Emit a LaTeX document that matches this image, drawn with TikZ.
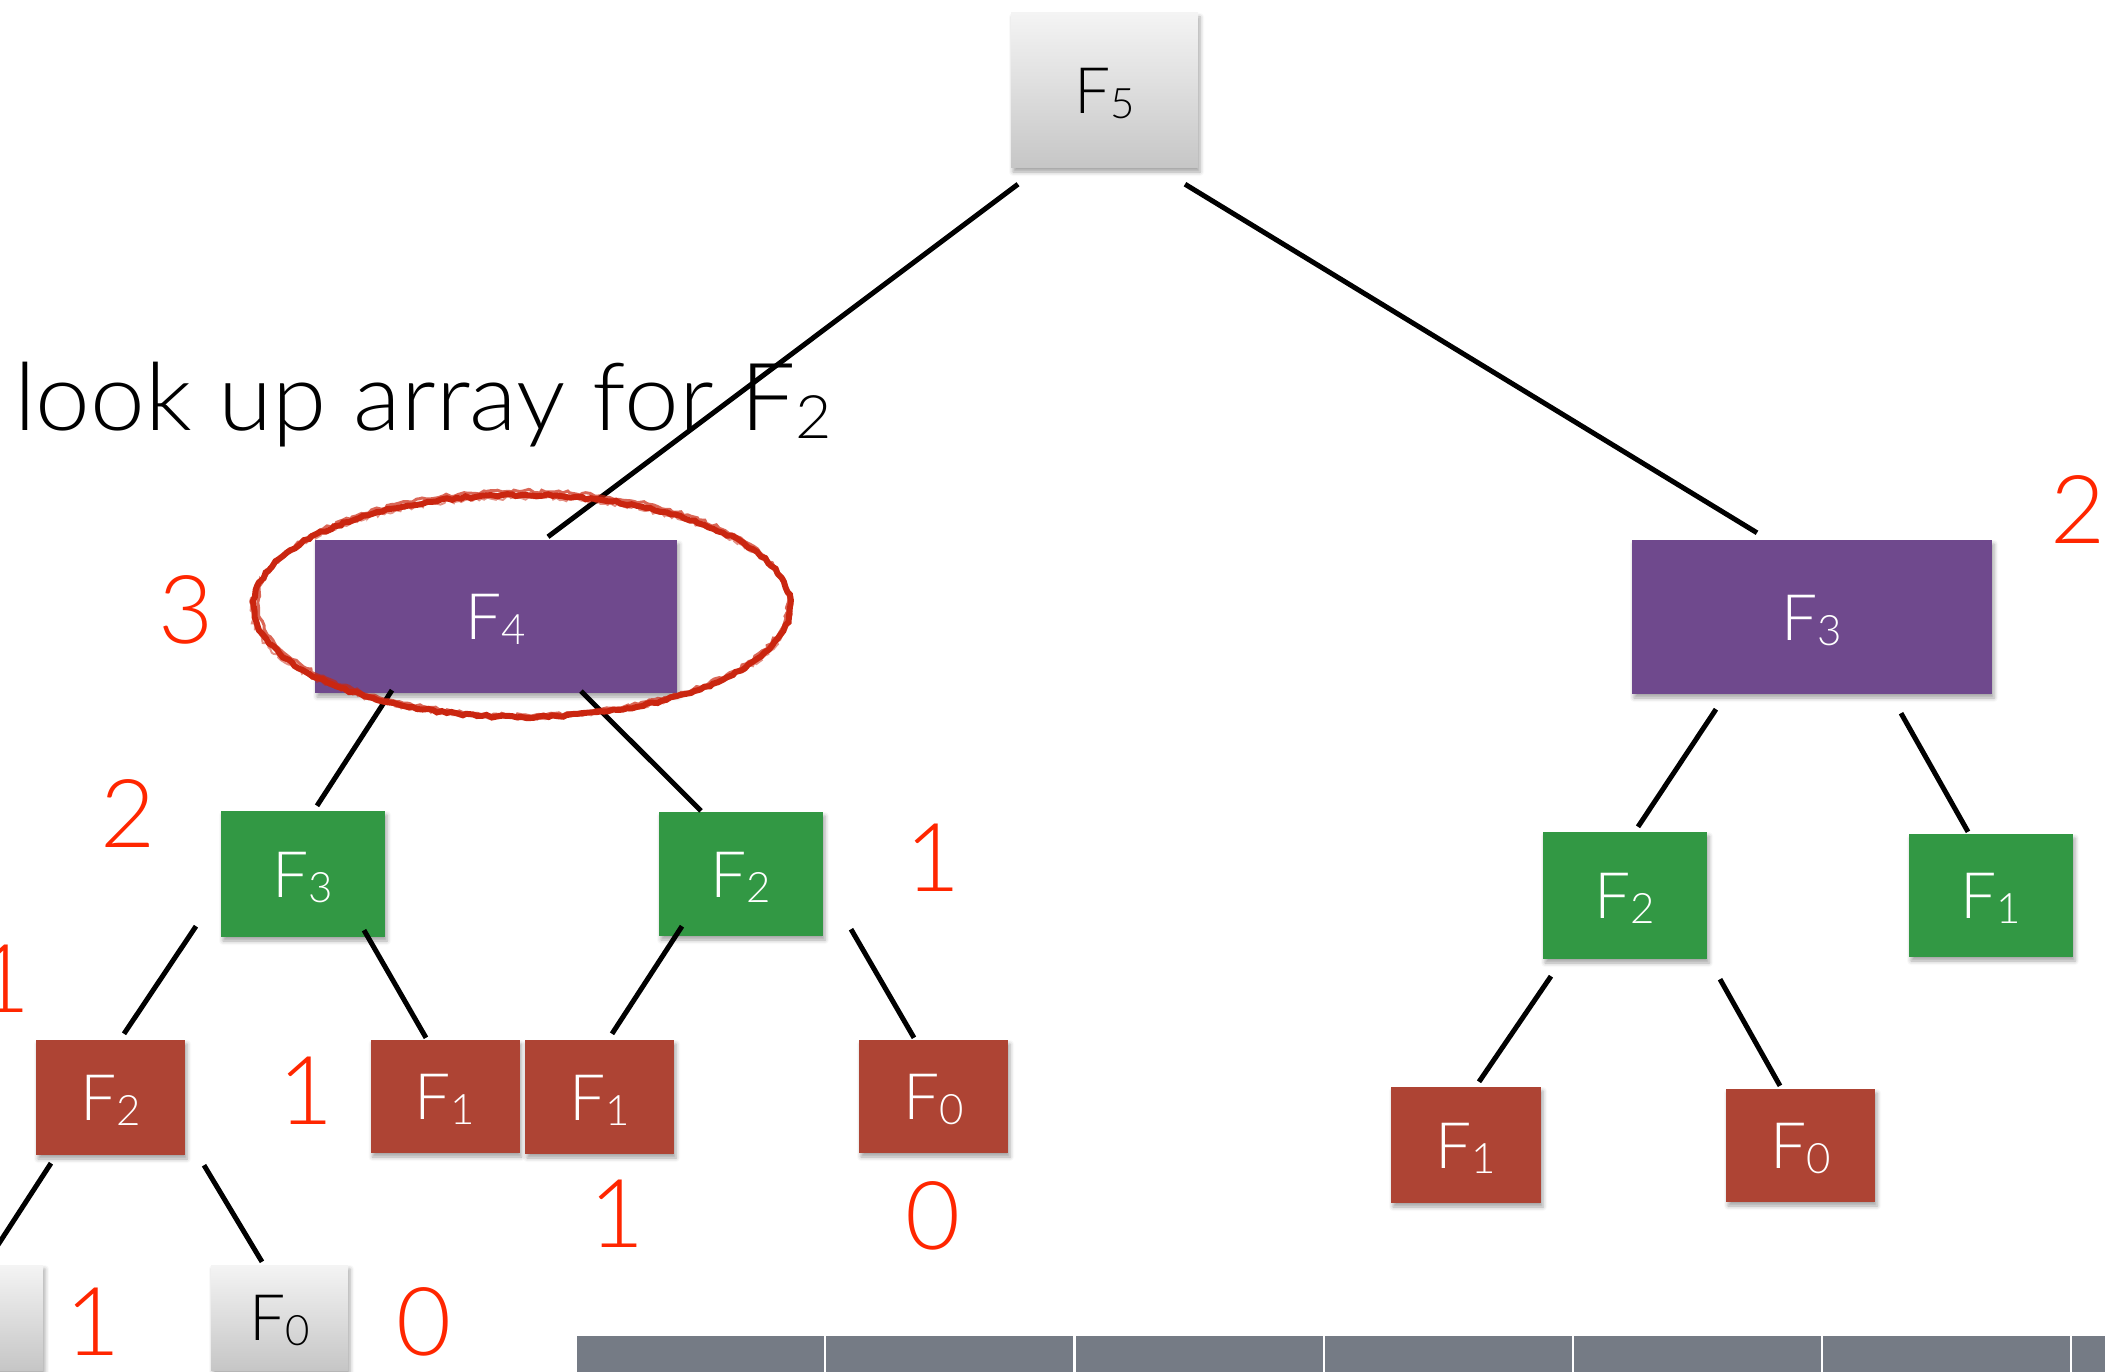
\documentclass[tikz,border=0pt]{standalone}
\usepackage{fontspec}
\IfFontExistsTF{Lato Light}
  {\setmainfont{Lato Light}\newfontfamily\capfont{Lato Light}[FakeStretch=1.045]}
  {\setmainfont{Liberation Sans}\newfontfamily\capfont{Liberation Sans}}
\usetikzlibrary{shadows.blur,decorations.pathmorphing}

\definecolor{boxpurple}{RGB}{111,73,141}
\definecolor{boxgreen}{RGB}{50,152,68}
\definecolor{boxred}{RGB}{174,68,52}
\definecolor{countred}{RGB}{255,38,0}
\definecolor{ringred}{RGB}{202,38,16}
\definecolor{arraygray}{RGB}{117,123,133}
\definecolor{cardtop}{RGB}{244,244,244}
\definecolor{cardbottom}{RGB}{198,198,198}

% F with a lowered index
\newcommand\fib[1]{F\raisebox{-5pt}{\fontsize{42}{42}\selectfont #1}}

\begin{document}
\begin{tikzpicture}[x=1pt,y=-1pt,
  card/.style={rectangle, inner sep=0pt, text height=46pt, text depth=0pt,
    font=\fontsize{64}{64}\selectfont,
    blur shadow={shadow xshift=2pt, shadow yshift=-4pt, shadow blur radius=4pt, shadow opacity=35}},
  purplecard/.style={card, fill=boxpurple, text=white},
  greencard/.style={card, fill=boxgreen, text=white},
  redcard/.style={card, fill=boxred, text=white},
  graycard/.style={card, top color=cardtop, bottom color=cardbottom, text=black},
  count/.style={inner sep=0pt, text height=68pt, text depth=0pt, text=countred,
    font=\fontsize{95}{95}\selectfont},
  edge/.style={line width=5pt, black},
  ring/.style={ringred, line width=6pt, decorate,
    decoration={random steps, segment length=5pt, amplitude=1.2pt}},
  cell/.style={rectangle, fill=arraygray, inner sep=0pt, minimum width=247, minimum height=60, anchor=north west}
]
\useasboundingbox (0,0) rectangle (2105,1372);
\clip (0,0) rectangle (2105,1372);

% array strip along the bottom
\foreach \i in {0,...,6}
  \node[cell] (cell\i) at ({577+\i*249.2},1336) {};

% tree nodes
\node[graycard, minimum width=187, minimum height=155] (f5) at (1104.5,90.5) {\fib{5}};

\node[purplecard, minimum width=362, minimum height=153] (f4) at (496,616.5) {\fib{4}};
\node[purplecard, minimum width=360, minimum height=154] (f3r) at (1812,617) {\fib{3}};

\node[greencard, minimum width=164, minimum height=126] (f3g) at (303,874) {\fib{3}};
\node[greencard, minimum width=164, minimum height=124] (f2g) at (741,874) {\fib{2}};
\node[greencard, minimum width=164, minimum height=127] (f2gr) at (1625,895.5) {\fib{2}};
\node[greencard, minimum width=164, minimum height=123] (f1gr) at (1991,895.5) {\fib{1}};

\node[redcard, minimum width=149, minimum height=115] (f2r) at (110.5,1097.5) {\fib{2}};
\node[redcard, minimum width=149, minimum height=113] (f1ra) at (445,1096.5) {\fib{1}};
\node[redcard, minimum width=149, minimum height=114] (f1rb) at (599.5,1097) {\fib{1}};
\node[redcard, minimum width=149, minimum height=113] (f0r) at (933.5,1096.5) {\fib{0}};
\node[redcard, minimum width=150, minimum height=116] (f1rr) at (1466,1145) {\fib{1}};
\node[redcard, minimum width=149, minimum height=113] (f0rr) at (1800.5,1145.5) {\fib{0}};

\node[graycard, minimum width=137, minimum height=105] (g1) at (-25.5,1317.5) {};
\node[graycard, minimum width=137, minimum height=105] (g0) at (279.5,1317.5) {\fib{0}};

% connectors
\draw[edge] ([shift={(-86.5,16)}]f5.south) -- ([shift={(52,-3)}]f4.north);
\draw[edge] ([shift={(80.5,16)}]f5.south) -- ([shift={(-55,-7)}]f3r.north);

\draw[edge] ([shift={(-104,-3)}]f4.south) -- ([shift={(14,-5)}]f3g.north);
\draw[edge] ([shift={(85,-2)}]f4.south) -- ([shift={(-40,-1)}]f2g.north);

\draw[edge] ([shift={(-107,-11)}]f3g.south) -- ([shift={(13.5,-6)}]f2r.north);
\draw[edge] ([shift={(61,-7)}]f3g.south) -- ([shift={(-19,-2)}]f1ra.north);
\draw[edge] ([shift={(-59,-10)}]f2g.south) -- ([shift={(12.5,-6)}]f1rb.north);
\draw[edge] ([shift={(110,-7)}]f2g.south) -- ([shift={(-19.5,-2)}]f0r.north);

\draw[edge] ([shift={(-59.5,8)}]f2r.south) -- ([shift={(12.5,-3)}]g1.north);
\draw[edge] ([shift={(93.5,10)}]f2r.south) -- ([shift={(-17.5,-3)}]g0.north);

\draw[edge] ([shift={(-96,15)}]f3r.south) -- ([shift={(13,-5)}]f2gr.north);
\draw[edge] ([shift={(89,19)}]f3r.south) -- ([shift={(-23,-2)}]f1gr.north);
\draw[edge] ([shift={(-74,17)}]f2gr.south) -- ([shift={(13,-5)}]f1rr.north);
\draw[edge] ([shift={(95,20)}]f2gr.south) -- ([shift={(-20.5,-3)}]f0rr.north);

% call counts
\node[count] (n3) at (186,609) {3};
\node[count] (n2a) at (128,813.5) {2};
\node[count] (n1a) at (3,978) {1};
\node[count] (n1b) at (306,1090) {1};
\node[count] (n1c) at (933,857) {1};
\node[count] (n1d) at (617,1213) {1};
\node[count] (n0a) at (933,1215) {0};
\node[count] (n1e) at (93,1321) {1};
\node[count] (n0b) at (424,1321) {0};
\node[count] (n2b) at (2078,509) {2};

% caption
\node[anchor=base west, inner sep=0pt, font=\capfont\fontsize{94}{94}\selectfont] (note) at (14,430)
  {look up array for F\raisebox{-8pt}{\fontsize{60}{60}\selectfont 2}};

% hand-drawn ring around F4
\draw[ring] (522,606) ellipse [x radius=268, y radius=111];
\draw[ring, line width=3pt, opacity=0.7,
  decoration={random steps, segment length=4pt, amplitude=1.6pt}] (523,603) ellipse [x radius=265, y radius=112];
\draw[ring, line width=2pt, opacity=0.5,
  decoration={random steps, segment length=3pt, amplitude=1.8pt}] (521,608) ellipse [x radius=270, y radius=110];
\end{tikzpicture}
\end{document}
